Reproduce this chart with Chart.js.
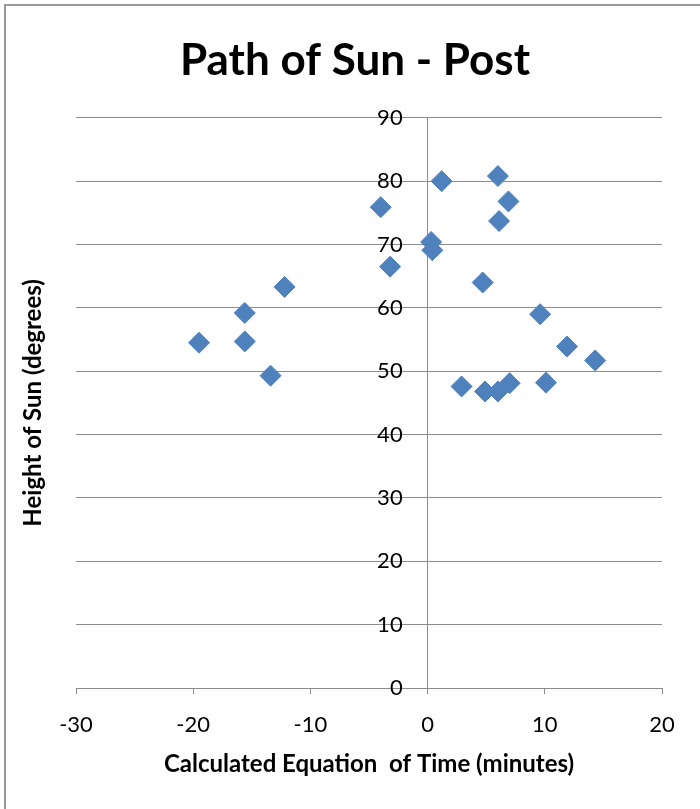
<!DOCTYPE html>
<html>
<head>
<meta charset="utf-8">
<title>Path of Sun - Post</title>
<script src="https://cdn.jsdelivr.net/npm/chart.js@4.4.1/dist/chart.umd.min.js"></script>
<style>
  html, body { margin: 0; padding: 0; background: #fff; overflow: hidden; }
  #frame {
    position: absolute; left: 4px; top: 4px;
    width: 800px; height: 900px;
    border: 2px solid #999;
  }
  #sun-chart { position: absolute; left: 0; top: 0; }
</style>
</head>
<body>
<div id="frame"></div>
<canvas id="sun-chart" width="700" height="809"></canvas>
<script>
// values
var eqTime = [-19.5, -15.6, -15.6, -13.4, -12.2, -4.0, -3.2, 0.3, 0.4, 1.2, 2.9,
              4.7, 4.9, 6.0, 6.1, 6.0, 6.9, 7.0, 9.6, 10.1, 11.9, 14.3];
var sunHeight = [54.5, 59.2, 54.7, 49.3, 63.3, 75.9, 66.5, 70.4, 69.1, 80.0, 47.6,
                 64.0, 46.8, 80.8, 73.7, 46.8, 76.8, 48.1, 59.0, 48.2, 53.9, 51.7];
var xRange = [-30, 20];
var yRange = [0, 90];
var xStep = 10;
var yStep = 10;

var chartTitle = 'Path of Sun - Post';
var xTitle = 'Calculated Equation  of Time (minutes)';
var yTitle = 'Height of Sun (degrees)';

var gridColor = '#8c8c8c';
var markerColor = '#4f81bd';
var fontFamily = 'Lato, "Open Sans", sans-serif';

function makePoints() {
    const points = [];
    eqTime.forEach((x, i) => {
        points.push({ x: x, y: sunHeight[i] });
    });
    return points;
}

var ctx = document.getElementById('sun-chart');

var sunChart = new Chart(ctx, {
    type: 'scatter',
    data: {
        datasets: [{
            label: 'Post',
            data: makePoints(),
            pointStyle: 'rectRot',
            pointRadius: 10.5,
            pointHoverRadius: 10.5,
            pointBorderWidth: 1,
            borderColor: markerColor,
            backgroundColor: markerColor
        }]
    },
    options: {
        responsive: false,
        animation: false,
        events: [],
        layout: {
            padding: { left: 10, right: 0, top: 0, bottom: 0 }
        },
        plugins: {
            legend: { display: false },
            tooltip: { enabled: false },
            title: {
                display: true,
                text: chartTitle,
                color: '#000',
                font: { family: fontFamily, size: 44, weight: 'bold' },
                padding: { top: 34, bottom: 31 }
            }
        },
        scales: {
            x: {
                type: 'linear',
                position: 'bottom',
                min: xRange[0],
                max: xRange[1],
                afterFit: (s) => { s.height = 121; },
                ticks: {
                    stepSize: xStep,
                    color: '#000',
                    padding: 18,
                    font: { family: fontFamily, size: 22 }
                },
                grid: {
                    display: true,
                    drawOnChartArea: false,
                    drawTicks: true,
                    tickLength: 6,
                    color: gridColor
                },
                border: { display: true, color: gridColor },
                title: {
                    display: true,
                    text: xTitle,
                    color: '#000',
                    font: { family: fontFamily, size: 24, weight: 'bold' },
                    padding: { top: 0, bottom: 30 }
                }
            },
            y: {
                type: 'linear',
                position: { x: 0 },
                min: yRange[0],
                max: yRange[1],
                ticks: { stepSize: yStep, display: false },
                grid: { color: gridColor, drawTicks: false },
                border: { display: true, color: gridColor }
            },
            yLabels: {
                type: 'linear',
                axis: 'y',
                position: { x: -2.13 },
                min: yRange[0],
                max: yRange[1],
                ticks: {
                    stepSize: yStep,
                    color: '#000',
                    font: { family: fontFamily, size: 22 }
                },
                grid: { display: false },
                border: { display: false }
            },
            yTitle: {
                type: 'linear',
                axis: 'y',
                position: 'left',
                min: yRange[0],
                max: yRange[1],
                afterFit: (s) => { s.width = 66; },
                ticks: { display: false },
                grid: { display: false },
                border: { display: false },
                title: {
                    display: true,
                    text: yTitle,
                    color: '#000',
                    font: { family: fontFamily, size: 24, weight: 'bold' },
                    padding: { top: 8.6, bottom: 0 }
                }
            },
            ySpacer: {
                type: 'linear',
                axis: 'y',
                position: 'right',
                min: yRange[0],
                max: yRange[1],
                afterFit: (s) => { s.width = 38; },
                ticks: { display: false },
                grid: { display: false },
                border: { display: false }
            }
        }
    }
});
</script>
</body>
</html>
